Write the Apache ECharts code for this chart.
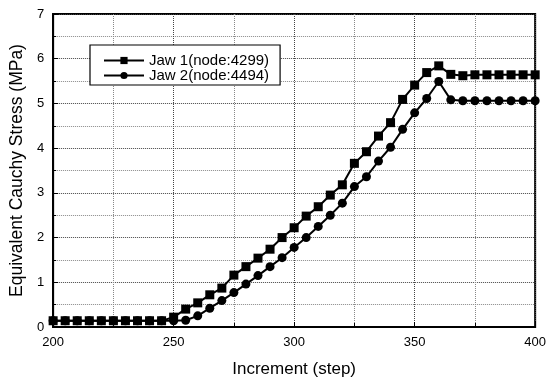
<!DOCTYPE html>
<html><head><meta charset="utf-8">
<script src="https://cdn.jsdelivr.net/npm/echarts@6/dist/echarts.min.js"></script>
<style>html,body{margin:0;padding:0;background:#fff}#c{width:549px;height:383px}</style>
</head><body><div id="c"></div>
<script>
const steps = [];
for (let s = 200; s <= 400; s += 5) steps.push(s);
const jaw1 = [0.14,0.14,0.14,0.14,0.14,0.14,0.14,0.14,0.14,0.14,
  0.22,0.40,0.54,0.72,0.87,1.16,1.35,1.54,1.74,2.00,2.22,2.48,2.69,2.95,3.18,
  3.66,3.92,4.27,4.57,5.09,5.41,5.69,5.84,5.65,5.62,
  5.64,5.64,5.64,5.64,5.64,5.64];
const jaw2 = [0.14,0.14,0.14,0.14,0.14,0.14,0.14,0.14,0.14,0.14,0.14,
  0.15,0.25,0.42,0.59,0.77,0.96,1.15,1.35,1.55,1.78,2.00,2.25,2.50,2.77,
  3.14,3.36,3.71,4.02,4.42,4.79,5.11,5.49,5.08,
  5.06,5.06,5.06,5.06,5.06,5.06,5.06];
const seriesNames = ['Jaw 1(node:4299)', 'Jaw 2(node:4494)'];
const xTitle = 'Increment (step)';
const yTitle = 'Equivalent Cauchy Stress (MPa)';

const font = 'Liberation Sans, Arial, sans-serif';
const chart = echarts.init(document.getElementById('c'), null, {renderer: 'canvas'});
const pair = arr => steps.map((s, i) => [s, arr[i]]);
chart.setOption({
  animation: false,
  backgroundColor: '#fff',
  grid: {left: 52, right: 12, top: 14, bottom: 56, show: true, borderColor: '#000', borderWidth: 2},
  legend: {
    left: 90, top: 45, orient: 'vertical', itemGap: 0, itemWidth: 40, itemHeight: 9,
    padding: [8, 11, 2, 13], borderColor: '#000', borderWidth: 1.2, backgroundColor: '#fff',
    textStyle: {fontFamily: font, fontSize: 15, lineHeight: 15, color: '#000'},
    data: seriesNames
  },
  xAxis: {
    type: 'value', min: 200, max: 400, interval: 50,
    name: xTitle, nameLocation: 'middle', nameGap: 34,
    nameTextStyle: {fontFamily: font, fontSize: 17, color: '#000'},
    axisLine: {lineStyle: {color: '#000', width: 2}},
    axisTick: {inside: true, length: 5, lineStyle: {color: '#000'}},
    minorTick: {show: true, splitNumber: 2, length: 4, lineStyle: {color: '#000'}},
    axisLabel: {fontFamily: font, fontSize: 13, color: '#000', margin: 9},
    splitLine: {show: true, lineStyle: {color: '#444', type: 'dotted', width: 1}},
    minorSplitLine: {show: true, lineStyle: {color: '#888', type: 'dotted', width: 1}}
  },
  yAxis: {
    type: 'value', min: 0, max: 7, interval: 1,
    name: yTitle, nameLocation: 'middle', nameGap: 26,
    nameTextStyle: {fontFamily: font, fontSize: 17.5, color: '#000'},
    axisLine: {lineStyle: {color: '#000', width: 2}},
    axisTick: {inside: true, length: 5, lineStyle: {color: '#000'}},
    minorTick: {show: true, splitNumber: 2, length: 3, lineStyle: {color: '#000'}},
    axisLabel: {fontFamily: font, fontSize: 13, color: '#000', margin: 9},
    splitLine: {show: true, lineStyle: {color: '#444', type: 'dotted', width: 1}},
    minorSplitLine: {show: true, lineStyle: {color: '#888', type: 'dotted', width: 1}}
  },
  series: [
    {name: seriesNames[0], type: 'line', data: pair(jaw1), symbol: 'rect', symbolSize: 9,
     color: '#000', lineStyle: {color: '#000', width: 2}, itemStyle: {color: '#000'}},
    {name: seriesNames[1], type: 'line', data: pair(jaw2), symbol: 'circle', symbolSize: 9,
     color: '#000', lineStyle: {color: '#000', width: 2}, itemStyle: {color: '#000'}}
  ]
});
</script></body></html>
